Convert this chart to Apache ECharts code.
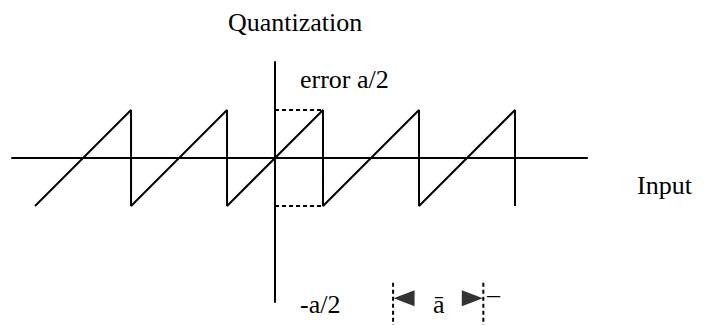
<!DOCTYPE html>
<html>
<head>
<meta charset="utf-8">
<script src="https://cdn.jsdelivr.net/npm/echarts@6/dist/echarts.min.js"></script>
<style>
  html, body { margin: 0; padding: 0; background: #ffffff; }
  #chart { width: 704px; height: 325px; }
</style>
</head>
<body>
<div id="chart"></div>
<script>
// axis extents, in units of the step a
const xRange = [-2.74, 3.25]
const yRange = [-1.5, 1.0]

// sawtooth error: ramps of +/- a/2 with a drop each step
const sawX = [-2.5, -1.5, -1.5, -0.5, -0.5, 0.5, 0.5, 1.5, 1.5, 2.5, 2.5]
const sawY = [-0.5, 0.5, -0.5, 0.5, -0.5, 0.5, -0.5, 0.5, -0.5, 0.5, -0.5]

// dotted guides to the a/2 and -a/2 levels
const guideX = [0, 0.5]
const guideLevels = [0.5, -0.5]

// width marker for one step a
const markX = [1.23, 2.17]
const markY = [-1.3, -1.75]
const arrowY = -1.46

const font = 'Liberation Serif'
const ink = '#000000'

const chart = echarts.init(document.getElementById('chart'), null, { renderer: 'svg' })

const hidden = {
  axisTick: { show: false },
  axisLabel: { show: false },
  splitLine: { show: false }
}

const series = [
  {
    type: 'line',
    data: sawX.map((x, i) => [x, sawY[i]]),
    showSymbol: false,
    lineStyle: { color: ink, width: 2 },
    animation: false
  }
]

guideLevels.forEach(level => {
  series.push({
    type: 'line',
    data: guideX.map(x => [x, level]),
    showSymbol: false,
    lineStyle: { color: ink, width: 2, type: [4, 3] },
    animation: false
  })
})

markX.forEach(x => {
  series.push({
    type: 'line',
    clip: false,
    data: markY.map(y => [x, y]),
    showSymbol: false,
    lineStyle: { color: ink, width: 2, type: [4, 3] },
    animation: false
  })
})

// arrow heads pointing at the two dashed marks
series.push({
  type: 'scatter',
  clip: false,
  symbol: 'path://M0,8 L22,0 L22,16 Z',
  symbolSize: [21, 16],
  symbolOffset: [11, 0],
  itemStyle: { color: ink },
  data: [[markX[0], arrowY]],
  animation: false
})
series.push({
  type: 'scatter',
  clip: false,
  symbol: 'path://M0,0 L22,8 L0,16 Z',
  symbolSize: [21, 16],
  symbolOffset: [-11, 0],
  itemStyle: { color: ink },
  data: [[markX[1], arrowY]],
  animation: false
})

function label(text, left, top) {
  return {
    type: 'text',
    left: left,
    top: top,
    style: { text: text, fill: ink, fontFamily: font, fontSize: 26 }
  }
}

chart.setOption({
  backgroundColor: '#ffffff',
  animation: false,
  title: {
    text: 'Quantization',
    left: 223,
    top: 4,
    textStyle: { fontFamily: font, fontWeight: 'normal', fontSize: 26, color: ink }
  },
  grid: { left: 12, right: 117, top: 62, bottom: 23 },
  xAxis: Object.assign({
    type: 'value',
    min: xRange[0],
    max: xRange[1],
    axisLine: { show: true, onZero: true, lineStyle: { color: ink, width: 2 } }
  }, hidden),
  yAxis: Object.assign({
    type: 'value',
    min: yRange[0],
    max: yRange[1],
    axisLine: { show: true, onZero: true, lineStyle: { color: ink, width: 2 } }
  }, hidden),
  graphic: [
    label('error a/2', 300, 66),
    label('Input', 637, 172),
    label('-a/2', 300, 291),
    label('ā', 433, 291),
    label('–', 487, 281)
  ],
  series: series
})
</script>
</body>
</html>
